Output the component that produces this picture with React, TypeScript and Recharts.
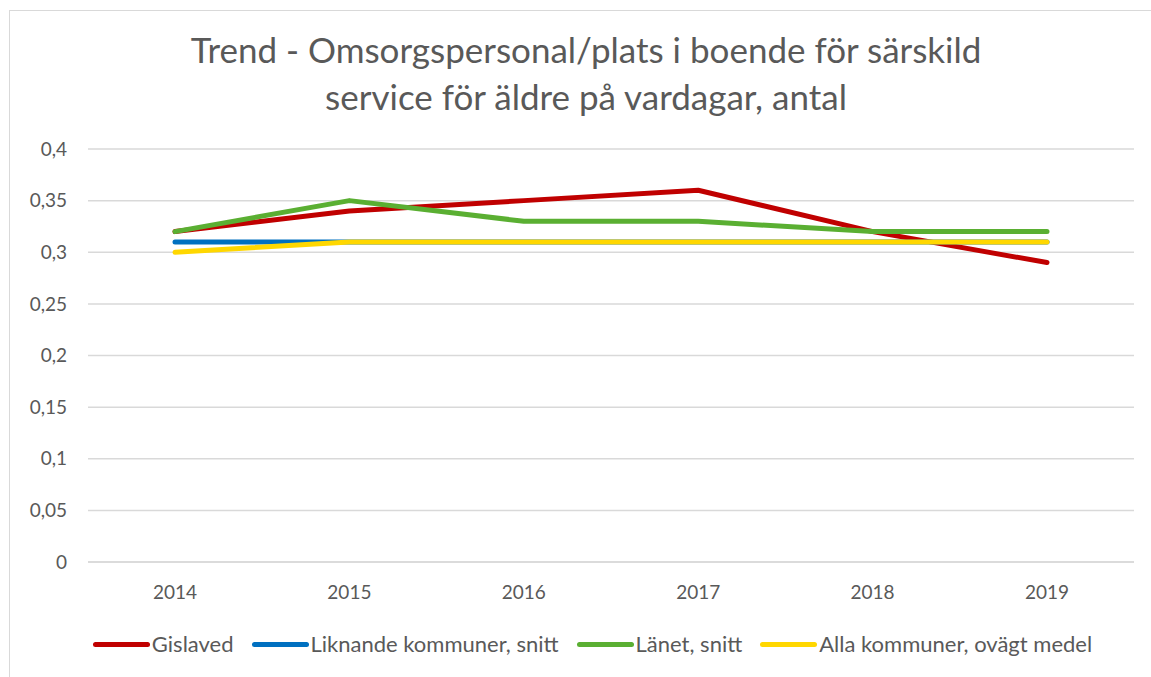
import { CartesianGrid, Legend, Line, LineChart, XAxis, YAxis } from "recharts";

const years = ["2014", "2015", "2016", "2017", "2018", "2019"];
const gislaved = [0.32, 0.34, 0.35, 0.36, 0.32, 0.29];
const liknande = [0.31, 0.31, 0.31, 0.31, 0.31, 0.31];
const lanet = [0.32, 0.35, 0.33, 0.33, 0.32, 0.32];
const alla = [0.3, 0.31, 0.31, 0.31, 0.31, 0.31];
const yTicks = [0, 0.05, 0.1, 0.15, 0.2, 0.25, 0.3, 0.35, 0.4];

const series = [
  { key: "gislaved", name: "Gislaved", color: "#C00000" },
  { key: "liknande", name: "Liknande kommuner, snitt", color: "#0070C0" },
  { key: "lanet", name: "Länet, snitt", color: "#5AAF32" },
  { key: "alla", name: "Alla kommuner, ovägt medel", color: "#FFD700" },
];

const data = years.map((y, i) => ({
  year: y,
  gislaved: gislaved[i],
  liknande: liknande[i],
  lanet: lanet[i],
  alla: alla[i],
}));

const FONT = "Lato, 'Open Sans', sans-serif";
const TEXT = "#595959";
const TICK = { fontSize: 19, fill: TEXT, fontFamily: FONT };

// legend drawn as html so the long line keys match the Excel look
function LegendRow() {
  return (
    <div style={{ display: "flex", justifyContent: "center", alignItems: "center", fontFamily: FONT, fontSize: 22, lineHeight: "26px", color: TEXT }}>
      {series.map((s, i) => (
        <div key={s.key} style={{ display: "flex", alignItems: "center", marginRight: i < series.length - 1 ? 18 : 0 }}>
          <span style={{ display: "inline-block", width: 57, height: 5, borderRadius: 3, background: s.color, marginRight: 2 }} />
          <span>{s.name}</span>
        </div>
      ))}
    </div>
  );
}

export default function App() {
  return (
    <div style={{ position: "absolute", left: 0, top: 0, width: 1151, height: 677, overflow: "hidden", background: "#fff" }}>
      <div style={{ position: "absolute", left: 9, top: 10, width: 1200, height: 700, border: "1.5px solid #d9d9d9" }} />
      <div
        style={{
          position: "absolute",
          left: 0,
          width: 1172,
          top: 26,
          textAlign: "center",
          fontFamily: FONT,
          fontSize: 35,
          lineHeight: "47px",
          color: TEXT,
        }}
      >
        Trend - Omsorgspersonal/plats i boende för särskild
        <br />
        service för äldre på vardagar, antal
      </div>
      <div style={{ position: "absolute", left: 0, top: 0 }}>
        <LineChart width={1151} height={677} data={data} margin={{ top: 149, right: 17, left: 0, bottom: 49 }}>
          <CartesianGrid vertical={false} stroke="#d9d9d9" strokeWidth={1.5} />
          <XAxis
            dataKey="year"
            height={40}
            padding={{ left: 87, right: 87 }}
            tick={TICK}
            tickLine={false}
            tickSize={0}
            tickMargin={24}
            axisLine={{ stroke: "#d9d9d9", strokeWidth: 1.5 }}
          />
          <YAxis
            width={88}
            domain={[0, 0.4]}
            ticks={yTicks}
            interval={0}
            tick={TICK}
            tickLine={false}
            tickSize={0}
            tickMargin={21}
            axisLine={false}
            tickFormatter={(v: number) => String(v).replace(".", ",")}
          />
          <Legend
            content={() => <LegendRow />}
            wrapperStyle={{ position: "absolute", top: 631, left: 17, width: 1151 }}
          />
          {series.map((s) => (
            <Line
              key={s.key}
              type="linear"
              dataKey={s.key}
              name={s.name}
              stroke={s.color}
              strokeWidth={5}
              strokeLinecap="round"
              strokeLinejoin="round"
              dot={false}
              isAnimationActive={false}
            />
          ))}
        </LineChart>
      </div>
    </div>
  );
}
